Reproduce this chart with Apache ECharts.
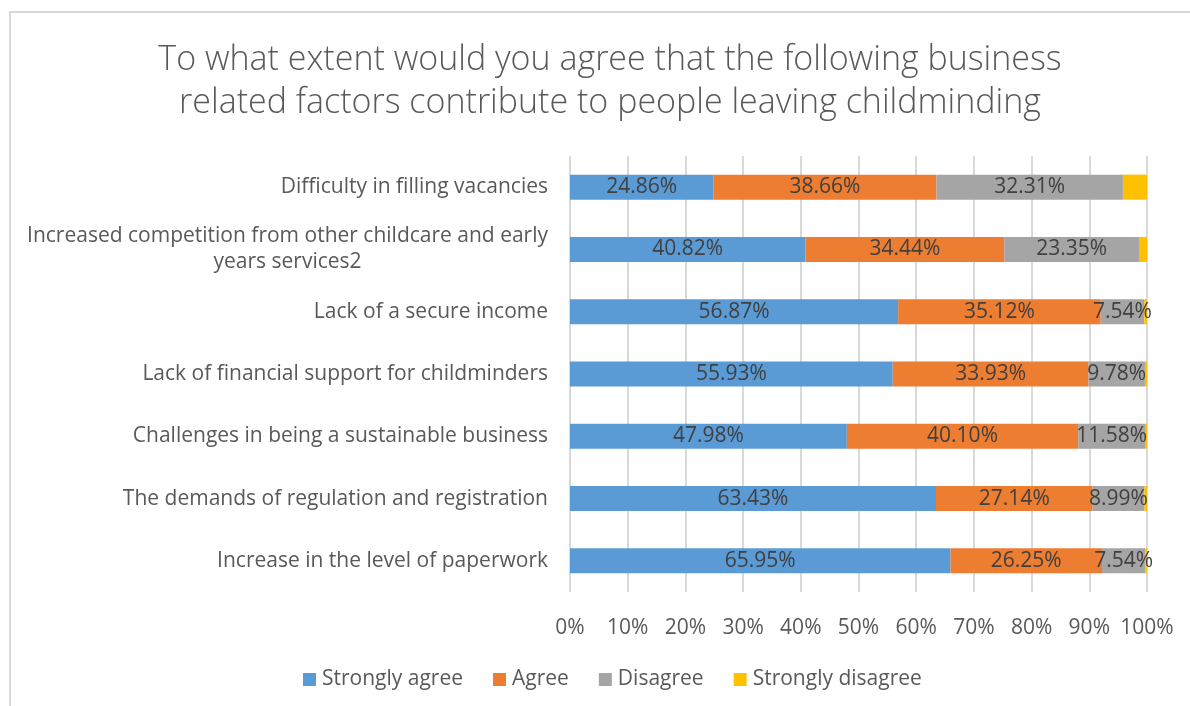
<!DOCTYPE html>
<html>
<head>
<meta charset="utf-8">
<script src="https://cdn.jsdelivr.net/npm/echarts@6/dist/echarts.min.js"></script>
<style>
  html, body { margin: 0; padding: 0; background: #ffffff; }
  #wrap { position: relative; width: 1190px; height: 706px; overflow: hidden; }
  #frame { position: absolute; left: 9px; top: 11px; width: 1200px; height: 720px;
           border: 2px solid #d9d9d9; box-sizing: border-box; }
  #chart { position: absolute; left: 0; top: 0; width: 1190px; height: 706px; }
</style>
</head>
<body>
<div id="wrap">
  <div id="frame"></div>
  <div id="chart"></div>
</div>
<script>
// Survey factors (top to bottom)
const categories = [
  'Difficulty in filling vacancies',
  'Increased competition from other childcare and early\nyears services2',
  'Lack of a secure income',
  'Lack of financial support for childminders',
  'Challenges in being a sustainable business',
  'The demands of regulation and registration',
  'Increase in the level of paperwork'
];

// Share of responses (%)
const stronglyAgree    = [24.86, 40.82, 56.87, 55.93, 47.98, 63.43, 65.95];
const agree            = [38.66, 34.44, 35.12, 33.93, 40.10, 27.14, 26.25];
const disagree         = [32.31, 23.35, 7.54, 9.78, 11.58, 8.99, 7.54];
const stronglyDisagree = [4.17, 1.39, 0.47, 0.36, 0.34, 0.44, 0.26];

const seriesNames = ['Strongly agree', 'Agree', 'Disagree', 'Strongly disagree'];
const seriesColors = ['#5b9bd5', '#ed7d31', '#a5a5a5', '#ffc000'];
const seriesValues = [stronglyAgree, agree, disagree, stronglyDisagree];

const FONT = '"Open Sans", "Noto Sans", sans-serif';
const FS = 21;

const chart = echarts.init(document.getElementById('chart'), null, { renderer: 'canvas' });

const series = seriesValues.map((vals, i) => ({
  name: seriesNames[i],
  type: 'bar',
  stack: 'total',
  data: vals,
  barWidth: 25,
  itemStyle: { color: seriesColors[i] },
  label: {
    show: i < 3,
    position: 'inside',
    color: '#404040',
    fontFamily: FONT,
    fontSize: FS,
    formatter: p => p.value.toFixed(2) + '%'
  },
  emphasis: { disabled: true }
}));

chart.setOption({
  animation: false,
  backgroundColor: 'transparent',
  title: {
    text: 'To what extent would you agree that the following business\nrelated factors contribute to people leaving childminding',
    left: 605,
    textAlign: 'center',
    top: 34,
    textStyle: {
      fontFamily: FONT,
      fontWeight: 300,
      fontSize: 34,
      lineHeight: 43,
      color: '#595959'
    }
  },
  legend: {
    data: seriesNames,
    bottom: 11,
    left: 298,
    itemWidth: 13,
    itemHeight: 13,
    itemGap: 30,
    icon: 'rect',
    textStyle: { fontFamily: FONT, fontSize: FS, color: '#595959', padding: [0, 0, 0, 1] }
  },
  grid: { left: 570, right: 43, top: 156, bottom: 114, containLabel: false },
  xAxis: {
    type: 'value',
    min: 0,
    max: 100,
    interval: 10,
    axisLine: { show: false },
    axisTick: { show: false },
    splitLine: { show: true, lineStyle: { color: '#d9d9d9', width: 2 } },
    axisLabel: {
      formatter: '{value}%',
      fontFamily: FONT,
      fontSize: FS,
      color: '#595959',
      margin: 26
    }
  },
  yAxis: {
    type: 'category',
    inverse: true,
    data: categories,
    axisLine: { show: false },
    axisTick: { show: false },
    axisLabel: {
      margin: 22,
      fontFamily: FONT,
      fontSize: FS,
      color: '#595959',
      lineHeight: 26,
      formatter: v => v.split('\n').map(s => '{c|' + s + '}').join('\n'),
      rich: {
        c: { align: 'center', fontFamily: FONT, fontSize: FS, color: '#595959', lineHeight: 26 }
      }
    }
  },
  series: series
});
</script>
</body>
</html>
